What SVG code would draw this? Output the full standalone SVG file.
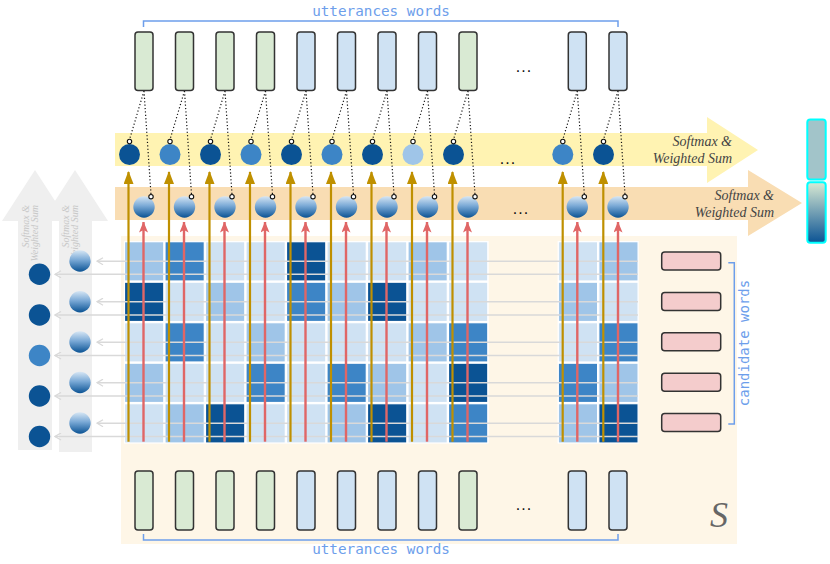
<svg xmlns="http://www.w3.org/2000/svg" width="830" height="564" viewBox="0 0 830 564">
<style>
.wg{fill:#d9ead3;stroke:#333;stroke-width:1.5}
.wb{fill:#cfe2f3;stroke:#333;stroke-width:1.5}
.cand{fill:#f4cccc;stroke:#333;stroke-width:1.5}
.c0{fill:#cfe2f3}.c1{fill:#9fc5e8}.c2{fill:#3d85c6}.c3{fill:#0b5394}
.cell{stroke:#fff;stroke-width:1.2}
.gold{stroke:#bf9000;stroke-width:2.2;fill:none}
.red{stroke:#e06666;stroke-width:2.4;fill:none}
.gray{stroke:#d9d9d9;stroke-width:1.5;fill:none}
.dot{stroke:#111;stroke-width:1.2;stroke-dasharray:1.2 2.2;fill:none}
.sc{fill:#fff;stroke:#111;stroke-width:1.1}
.br{stroke:#6d9eeb;stroke-width:1.5;fill:none}
.mono{font-family:"DejaVu Sans Mono","Liberation Mono",monospace;fill:#6d9eeb}
.it{font-family:"Liberation Serif","Times New Roman",serif;font-style:italic}
.dots{font-family:"Liberation Sans",Arial,sans-serif;font-size:16px;fill:#111;text-anchor:middle;letter-spacing:1px}
</style>
<defs>
<linearGradient id="sph" x1="0" y1="0" x2="0" y2="1">
<stop offset="0" stop-color="#d6e6f4"/>
<stop offset="0.45" stop-color="#7aa9d6"/>
<stop offset="1" stop-color="#0b5394"/>
</linearGradient>
<linearGradient id="bar" x1="0" y1="0" x2="0" y2="1">
<stop offset="0" stop-color="#d9ead3"/>
<stop offset="1" stop-color="#0b5394"/>
</linearGradient>
<marker id="mg" viewBox="0 0 13 10" refX="12" refY="5" markerWidth="13" markerHeight="10" markerUnits="userSpaceOnUse" orient="auto">
<path d="M0,0 L13,5 L0,10 Z" fill="#bf9000"/>
</marker>
<marker id="mr" viewBox="0 0 11 9" refX="10.5" refY="4.5" markerWidth="11" markerHeight="9" markerUnits="userSpaceOnUse" orient="auto">
<path d="M0,0 L11,4.5 L0,9 L2.5,4.5 Z" fill="#e06666"/>
</marker>
<marker id="mgr" viewBox="0 0 8 8" refX="7" refY="4" markerWidth="8" markerHeight="8" markerUnits="userSpaceOnUse" orient="auto">
<path d="M1,0.5 L7,4 L1,7.5" fill="none" stroke="#d9d9d9" stroke-width="1.3"/>
</marker>
</defs>

<!-- background regions -->
<g id="left-arrows">
<path d="M18,450 V221 H2 L35,170 L68,221 H52 V450 Z" fill="#efefef"/>
<path d="M59,452 V221 H42 L75,170 L108,221 H92 V452 Z" fill="#efefef"/>
<g class="it" font-size="10" fill="#c8c8c8" text-anchor="end">
<text transform="translate(28.5,205) rotate(-90)">Softmax &amp;</text>
<text transform="translate(38,205) rotate(-90)">Weighted Sum</text>
<text transform="translate(68.5,205) rotate(-90)">Softmax &amp;</text>
<text transform="translate(78,205) rotate(-90)">Weighted Sum</text>
</g>
</g>

<g id="softmax-yellow">
<path d="M115,133 H707 V117 L758,150 L707,183 V166 H115 Z" fill="#fff3b2"/>
<text class="it" font-size="14" fill="#444" text-anchor="end" x="732" y="146">Softmax &amp;</text>
<text class="it" font-size="14" fill="#444" text-anchor="end" x="732" y="163">Weighted Sum</text>
</g>
<g id="softmax-orange">
<path d="M115,187 H748 V170 L802,203 L748,236 V220 H115 Z" fill="#f9ddb3"/>
<text class="it" font-size="14" fill="#444" text-anchor="end" x="774" y="200">Softmax &amp;</text>
<text class="it" font-size="14" fill="#444" text-anchor="end" x="774" y="217">Weighted Sum</text>
</g>

<g id="S-region">
<rect x="121" y="236" width="616" height="308" fill="#fef6e7"/>
<text class="it" font-size="36" fill="#666" x="719" y="527" text-anchor="middle">S</text>
</g>

<g id="matrix">
<rect x="124" y="241" width="364.5" height="202" fill="#fff"/>
<rect x="557.8" y="241" width="80.5" height="202" fill="#fff"/>
<!-- row 0 -->
<rect class="cell c1" x="124.5" y="241.7" width="39.3" height="39.3"/>
<rect class="cell c2" x="165" y="241.7" width="39.3" height="39.3"/>
<rect class="cell c0" x="205.5" y="241.7" width="39.3" height="39.3"/>
<rect class="cell c0" x="246" y="241.7" width="39.3" height="39.3"/>
<rect class="cell c3" x="286.5" y="241.7" width="39.3" height="39.3"/>
<rect class="cell c0" x="327" y="241.7" width="39.3" height="39.3"/>
<rect class="cell c0" x="367.5" y="241.7" width="39.3" height="39.3"/>
<rect class="cell c1" x="408" y="241.7" width="39.3" height="39.3"/>
<rect class="cell c0" x="448.5" y="241.7" width="39.3" height="39.3"/>
<rect class="cell c0" x="558.3" y="241.7" width="39.3" height="39.3"/>
<rect class="cell c1" x="598.8" y="241.7" width="39.3" height="39.3"/>
<!-- row 1 -->
<rect class="cell c3" x="124.5" y="282.2" width="39.3" height="39.3"/>
<rect class="cell c0" x="165" y="282.2" width="39.3" height="39.3"/>
<rect class="cell c1" x="205.5" y="282.2" width="39.3" height="39.3"/>
<rect class="cell c0" x="246" y="282.2" width="39.3" height="39.3"/>
<rect class="cell c2" x="286.5" y="282.2" width="39.3" height="39.3"/>
<rect class="cell c1" x="327" y="282.2" width="39.3" height="39.3"/>
<rect class="cell c3" x="367.5" y="282.2" width="39.3" height="39.3"/>
<rect class="cell c0" x="408" y="282.2" width="39.3" height="39.3"/>
<rect class="cell c0" x="448.5" y="282.2" width="39.3" height="39.3"/>
<rect class="cell c1" x="558.3" y="282.2" width="39.3" height="39.3"/>
<rect class="cell c0" x="598.8" y="282.2" width="39.3" height="39.3"/>
<!-- row 2 -->
<rect class="cell c0" x="124.5" y="322.7" width="39.3" height="39.3"/>
<rect class="cell c2" x="165" y="322.7" width="39.3" height="39.3"/>
<rect class="cell c0" x="205.5" y="322.7" width="39.3" height="39.3"/>
<rect class="cell c1" x="246" y="322.7" width="39.3" height="39.3"/>
<rect class="cell c0" x="286.5" y="322.7" width="39.3" height="39.3"/>
<rect class="cell c0" x="327" y="322.7" width="39.3" height="39.3"/>
<rect class="cell c0" x="367.5" y="322.7" width="39.3" height="39.3"/>
<rect class="cell c1" x="408" y="322.7" width="39.3" height="39.3"/>
<rect class="cell c2" x="448.5" y="322.7" width="39.3" height="39.3"/>
<rect class="cell c0" x="558.3" y="322.7" width="39.3" height="39.3"/>
<rect class="cell c2" x="598.8" y="322.7" width="39.3" height="39.3"/>
<!-- row 3 -->
<rect class="cell c1" x="124.5" y="363.2" width="39.3" height="39.3"/>
<rect class="cell c0" x="165" y="363.2" width="39.3" height="39.3"/>
<rect class="cell c0" x="205.5" y="363.2" width="39.3" height="39.3"/>
<rect class="cell c2" x="246" y="363.2" width="39.3" height="39.3"/>
<rect class="cell c0" x="286.5" y="363.2" width="39.3" height="39.3"/>
<rect class="cell c2" x="327" y="363.2" width="39.3" height="39.3"/>
<rect class="cell c1" x="367.5" y="363.2" width="39.3" height="39.3"/>
<rect class="cell c0" x="408" y="363.2" width="39.3" height="39.3"/>
<rect class="cell c3" x="448.5" y="363.2" width="39.3" height="39.3"/>
<rect class="cell c2" x="558.3" y="363.2" width="39.3" height="39.3"/>
<rect class="cell c1" x="598.8" y="363.2" width="39.3" height="39.3"/>
<!-- row 4 -->
<rect class="cell c0" x="124.5" y="403.7" width="39.3" height="39.3"/>
<rect class="cell c1" x="165" y="403.7" width="39.3" height="39.3"/>
<rect class="cell c3" x="205.5" y="403.7" width="39.3" height="39.3"/>
<rect class="cell c0" x="246" y="403.7" width="39.3" height="39.3"/>
<rect class="cell c0" x="286.5" y="403.7" width="39.3" height="39.3"/>
<rect class="cell c1" x="327" y="403.7" width="39.3" height="39.3"/>
<rect class="cell c3" x="367.5" y="403.7" width="39.3" height="39.3"/>
<rect class="cell c0" x="408" y="403.7" width="39.3" height="39.3"/>
<rect class="cell c2" x="448.5" y="403.7" width="39.3" height="39.3"/>
<rect class="cell c1" x="558.3" y="403.7" width="39.3" height="39.3"/>
<rect class="cell c3" x="598.8" y="403.7" width="39.3" height="39.3"/>
</g>

<!-- connectors -->
<g id="connectors">
<g id="row-arrows">
<path class="gray" d="M638,261.2 H97" marker-end="url(#mgr)"/>
<path class="gray" d="M638,274.3 H55" marker-end="url(#mgr)"/>
<path class="gray" d="M638,301.7 H97" marker-end="url(#mgr)"/>
<path class="gray" d="M638,315 H55" marker-end="url(#mgr)"/>
<path class="gray" d="M638,342.2 H97" marker-end="url(#mgr)"/>
<path class="gray" d="M638,355.5 H55" marker-end="url(#mgr)"/>
<path class="gray" d="M638,382.7 H97" marker-end="url(#mgr)"/>
<path class="gray" d="M638,396 H55" marker-end="url(#mgr)"/>
<path class="gray" d="M638,423.2 H97" marker-end="url(#mgr)"/>
<path class="gray" d="M638,436.5 H55" marker-end="url(#mgr)"/>
</g>
<g id="gold-arrows">
<path class="gold" d="M128.5,441.7 V172" marker-end="url(#mg)"/>
<path class="gold" d="M169,441.7 V172" marker-end="url(#mg)"/>
<path class="gold" d="M209.5,441.7 V172" marker-end="url(#mg)"/>
<path class="gold" d="M250,441.7 V172" marker-end="url(#mg)"/>
<path class="gold" d="M290.5,441.7 V172" marker-end="url(#mg)"/>
<path class="gold" d="M331,441.7 V172" marker-end="url(#mg)"/>
<path class="gold" d="M371.5,441.7 V172" marker-end="url(#mg)"/>
<path class="gold" d="M412,441.7 V172" marker-end="url(#mg)"/>
<path class="gold" d="M452.5,441.7 V172" marker-end="url(#mg)"/>
<path class="gold" d="M562.7,441.7 V172" marker-end="url(#mg)"/>
<path class="gold" d="M603.3,441.7 V172" marker-end="url(#mg)"/>
</g>
<g id="red-arrows">
<path class="red" d="M143.5,441.7 V222" marker-end="url(#mr)"/>
<path class="red" d="M184,441.7 V222" marker-end="url(#mr)"/>
<path class="red" d="M224.5,441.7 V222" marker-end="url(#mr)"/>
<path class="red" d="M265,441.7 V222" marker-end="url(#mr)"/>
<path class="red" d="M305.5,441.7 V222" marker-end="url(#mr)"/>
<path class="red" d="M346,441.7 V222" marker-end="url(#mr)"/>
<path class="red" d="M386.5,441.7 V222" marker-end="url(#mr)"/>
<path class="red" d="M427,441.7 V222" marker-end="url(#mr)"/>
<path class="red" d="M467.5,441.7 V222" marker-end="url(#mr)"/>
<path class="red" d="M577.3,441.7 V222" marker-end="url(#mr)"/>
<path class="red" d="M618,441.7 V222" marker-end="url(#mr)"/>
</g>
<g id="dotted-links">
<path class="dot" d="M144,91 L129.5,139.5 M144,91 L151,194.5"/>
<path class="dot" d="M184.5,91 L170,139.5 M184.5,91 L191.5,194.5"/>
<path class="dot" d="M225,91 L210.5,139.5 M225,91 L232,194.5"/>
<path class="dot" d="M265.5,91 L251,139.5 M265.5,91 L272.5,194.5"/>
<path class="dot" d="M306,91 L291.5,139.5 M306,91 L313,194.5"/>
<path class="dot" d="M346.5,91 L332,139.5 M346.5,91 L353.5,194.5"/>
<path class="dot" d="M387,91 L372.5,139.5 M387,91 L394,194.5"/>
<path class="dot" d="M427.5,91 L413,139.5 M427.5,91 L434.5,194.5"/>
<path class="dot" d="M468,91 L453.5,139.5 M468,91 L475,194.5"/>
<path class="dot" d="M577.3,91 L562.8,139.5 M577.3,91 L584.3,194.5"/>
<path class="dot" d="M618,91 L603.5,139.5 M618,91 L625,194.5"/>
</g>
</g>

<g id="left-nodes">
<circle cx="39.5" cy="274.3" r="10.7" fill="#0b5394"/>
<circle cx="39.5" cy="315" r="10.7" fill="#0b5394"/>
<circle cx="39.5" cy="355.5" r="10.7" fill="#3d85c6"/>
<circle cx="39.5" cy="396" r="10.7" fill="#0b5394"/>
<circle cx="39.5" cy="436.5" r="10.7" fill="#0b5394"/>
<circle cx="80" cy="261" r="10.7" fill="url(#sph)"/>
<circle cx="80" cy="301.7" r="10.7" fill="url(#sph)"/>
<circle cx="80" cy="342" r="10.7" fill="url(#sph)"/>
<circle cx="80" cy="382.5" r="10.7" fill="url(#sph)"/>
<circle cx="80" cy="423" r="10.7" fill="url(#sph)"/>
</g>

<g id="yellow-nodes">
<circle cx="129.5" cy="154.5" r="10.5" fill="#0b5394"/>
<circle cx="170" cy="154.5" r="10.5" fill="#3d85c6"/>
<circle cx="210.5" cy="154.5" r="10.5" fill="#0b5394"/>
<circle cx="251" cy="154.5" r="10.5" fill="#3d85c6"/>
<circle cx="291.5" cy="154.5" r="10.5" fill="#0b5394"/>
<circle cx="332" cy="154.5" r="10.5" fill="#3d85c6"/>
<circle cx="372.5" cy="154.5" r="10.5" fill="#0b5394"/>
<circle cx="413" cy="154.5" r="10.5" fill="#9fc5e8"/>
<circle cx="453.5" cy="154.5" r="10.5" fill="#0b5394"/>
<circle cx="562.8" cy="154.5" r="10.5" fill="#3d85c6"/>
<circle cx="603.5" cy="154.5" r="10.5" fill="#0b5394"/>
<text class="dots" x="508" y="164">...</text>
<g>
<circle class="sc" cx="129.5" cy="141.5" r="2.2"/><circle class="sc" cx="170" cy="141.5" r="2.2"/>
<circle class="sc" cx="210.5" cy="141.5" r="2.2"/><circle class="sc" cx="251" cy="141.5" r="2.2"/>
<circle class="sc" cx="291.5" cy="141.5" r="2.2"/><circle class="sc" cx="332" cy="141.5" r="2.2"/>
<circle class="sc" cx="372.5" cy="141.5" r="2.2"/><circle class="sc" cx="413" cy="141.5" r="2.2"/>
<circle class="sc" cx="453.5" cy="141.5" r="2.2"/><circle class="sc" cx="562.8" cy="141.5" r="2.2"/>
<circle class="sc" cx="603.5" cy="141.5" r="2.2"/>
</g>
</g>

<g id="orange-nodes">
<circle cx="144" cy="207" r="10.7" fill="url(#sph)"/>
<circle cx="184.5" cy="207" r="10.7" fill="url(#sph)"/>
<circle cx="225" cy="207" r="10.7" fill="url(#sph)"/>
<circle cx="265.5" cy="207" r="10.7" fill="url(#sph)"/>
<circle cx="306" cy="207" r="10.7" fill="url(#sph)"/>
<circle cx="346.5" cy="207" r="10.7" fill="url(#sph)"/>
<circle cx="387" cy="207" r="10.7" fill="url(#sph)"/>
<circle cx="427.5" cy="207" r="10.7" fill="url(#sph)"/>
<circle cx="468" cy="207" r="10.7" fill="url(#sph)"/>
<circle cx="577.3" cy="207" r="10.7" fill="url(#sph)"/>
<circle cx="618" cy="207" r="10.7" fill="url(#sph)"/>
<text class="dots" x="521" y="214">...</text>
<g>
<circle class="sc" cx="151" cy="196.7" r="2.2"/><circle class="sc" cx="191.5" cy="196.7" r="2.2"/>
<circle class="sc" cx="232" cy="196.7" r="2.2"/><circle class="sc" cx="272.5" cy="196.7" r="2.2"/>
<circle class="sc" cx="313" cy="196.7" r="2.2"/><circle class="sc" cx="353.5" cy="196.7" r="2.2"/>
<circle class="sc" cx="394" cy="196.7" r="2.2"/><circle class="sc" cx="434.5" cy="196.7" r="2.2"/>
<circle class="sc" cx="475" cy="196.7" r="2.2"/><circle class="sc" cx="584.3" cy="196.7" r="2.2"/>
<circle class="sc" cx="625" cy="196.7" r="2.2"/>
</g>
</g>

<g id="top-words">
<rect class="wg" x="135" y="32" width="18" height="58.5" rx="3"/>
<rect class="wg" x="175.5" y="32" width="18" height="58.5" rx="3"/>
<rect class="wg" x="216" y="32" width="18" height="58.5" rx="3"/>
<rect class="wg" x="256.5" y="32" width="18" height="58.5" rx="3"/>
<rect class="wb" x="297" y="32" width="18" height="58.5" rx="3"/>
<rect class="wb" x="337.5" y="32" width="18" height="58.5" rx="3"/>
<rect class="wb" x="378" y="32" width="18" height="58.5" rx="3"/>
<rect class="wb" x="418.5" y="32" width="18" height="58.5" rx="3"/>
<rect class="wg" x="459" y="32" width="18" height="58.5" rx="3"/>
<rect class="wb" x="568.3" y="32" width="18" height="58.5" rx="3"/>
<rect class="wb" x="609" y="32" width="18" height="58.5" rx="3"/>
<text class="dots" x="524" y="72">...</text>
<path class="br" d="M143.5,27 V21 H618 V27"/>
<text class="mono" font-size="14.3" x="381" y="15.5" text-anchor="middle">utterances words</text>
</g>

<g id="bottom-words">
<rect class="wg" x="135" y="471" width="18" height="59" rx="3"/>
<rect class="wg" x="175.5" y="471" width="18" height="59" rx="3"/>
<rect class="wg" x="216" y="471" width="18" height="59" rx="3"/>
<rect class="wg" x="256.5" y="471" width="18" height="59" rx="3"/>
<rect class="wb" x="297" y="471" width="18" height="59" rx="3"/>
<rect class="wb" x="337.5" y="471" width="18" height="59" rx="3"/>
<rect class="wb" x="378" y="471" width="18" height="59" rx="3"/>
<rect class="wb" x="418.5" y="471" width="18" height="59" rx="3"/>
<rect class="wg" x="459" y="471" width="18" height="59" rx="3"/>
<rect class="wb" x="568.3" y="471" width="18" height="59" rx="3"/>
<rect class="wb" x="609" y="471" width="18" height="59" rx="3"/>
<text class="dots" x="524" y="510">...</text>
<path class="br" d="M143.5,534 V540 H618 V534"/>
<text class="mono" font-size="14.3" x="381" y="553.5" text-anchor="middle">utterances words</text>
</g>

<g id="candidate-words">
<rect class="cand" x="661.7" y="252" width="59" height="18" rx="3"/>
<rect class="cand" x="661.7" y="292.4" width="59" height="18" rx="3"/>
<rect class="cand" x="661.7" y="332.8" width="59" height="18" rx="3"/>
<rect class="cand" x="661.7" y="373.2" width="59" height="18" rx="3"/>
<rect class="cand" x="661.7" y="413.6" width="59" height="18" rx="3"/>
<path class="br" d="M728.3,262.7 H734.3 V424 H728.3"/>
<text class="mono" font-size="14" text-anchor="middle" transform="translate(749,343) rotate(-90)">candidate words</text>
</g>

<g id="output-bars">
<rect x="807.3" y="119.5" width="18.4" height="60" rx="3" fill="#a2c4c9" stroke="#00ffff" stroke-width="2"/>
<rect x="807.3" y="182.3" width="18.4" height="60.4" rx="3" fill="url(#bar)" stroke="#00ffff" stroke-width="2"/>
</g>
</svg>
